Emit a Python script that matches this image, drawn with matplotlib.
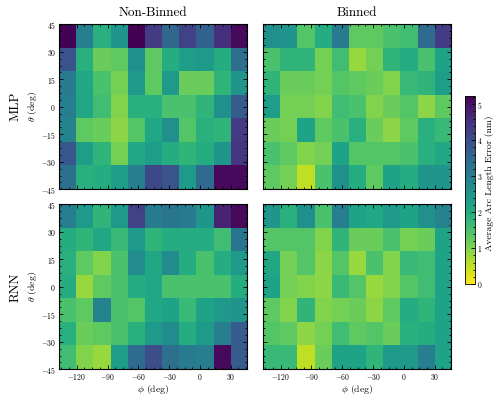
import numpy as np
import matplotlib
matplotlib.use("Agg")
import matplotlib.pyplot as plt
from matplotlib.ticker import MultipleLocator, AutoMinorLocator

# mean arc length error (nm) per (theta, phi) bin; rows run from theta=45 down to -45
mlp_nonbinned = [
    [5.2, 3.0, 1.9, 2.5, 5.2, 4.3, 3.5, 4.2, 3.6, 4.5, 5.1],
    [3.9, 1.9, 1.2, 1.3, 2.6, 1.3, 2.0, 2.3, 2.4, 2.0, 3.3],
    [3.1, 2.1, 1.5, 1.1, 2.4, 1.3, 2.4, 1.2, 1.2, 1.8, 2.5],
    [3.0, 2.1, 1.6, 1.0, 1.9, 1.9, 1.5, 1.5, 1.8, 2.6, 3.7],
    [2.9, 1.3, 1.2, 0.9, 1.4, 2.1, 2.6, 1.4, 1.9, 1.8, 4.3],
    [3.8, 2.3, 1.8, 1.1, 2.1, 2.3, 2.0, 1.8, 2.0, 2.5, 4.4],
    [3.3, 1.9, 2.0, 2.3, 3.0, 4.1, 3.9, 2.4, 3.4, 5.1, 5.1],
]
mlp_binned = [
    [2.6, 2.5, 1.4, 2.0, 3.1, 1.3, 1.3, 1.5, 1.6, 3.4, 4.3],
    [1.5, 1.8, 1.8, 1.1, 1.6, 0.8, 1.1, 1.8, 2.0, 1.5, 2.2],
    [1.8, 1.2, 1.2, 1.1, 1.4, 1.3, 1.2, 1.0, 1.7, 1.8, 2.3],
    [2.3, 1.1, 1.1, 1.0, 1.6, 1.5, 1.0, 1.2, 1.4, 0.9, 1.3],
    [1.2, 1.1, 2.2, 1.3, 1.5, 1.9, 1.2, 0.9, 1.3, 1.9, 1.7],
    [1.5, 1.3, 1.0, 1.1, 2.2, 1.4, 1.4, 1.4, 1.5, 1.9, 2.1],
    [1.3, 1.1, 0.5, 1.5, 2.6, 2.0, 1.3, 2.2, 2.0, 2.5, 2.5],
]
rnn_nonbinned = [
    [3.0, 2.4, 1.8, 2.4, 4.2, 3.1, 3.2, 3.1, 2.5, 4.7, 5.1],
    [2.0, 1.8, 2.1, 1.7, 2.4, 1.8, 2.0, 2.0, 2.0, 1.6, 3.2],
    [1.9, 1.3, 1.0, 1.5, 2.7, 2.1, 2.7, 2.0, 1.5, 2.0, 2.4],
    [2.0, 0.8, 1.3, 1.5, 2.0, 2.1, 1.5, 1.5, 1.5, 1.5, 2.0],
    [1.5, 1.3, 2.9, 1.5, 1.4, 2.1, 2.2, 1.7, 2.2, 2.4, 2.5],
    [1.9, 1.2, 1.3, 1.5, 1.9, 2.4, 2.7, 2.0, 2.4, 3.0, 3.7],
    [1.6, 1.0, 0.8, 2.3, 3.4, 4.0, 3.3, 3.1, 3.0, 5.1, 3.7],
]
rnn_binned = [
    [2.5, 1.9, 2.6, 1.5, 3.0, 2.2, 2.1, 2.4, 2.2, 2.6, 2.9],
    [1.4, 1.4, 1.4, 1.0, 1.8, 1.2, 1.2, 1.5, 1.1, 1.2, 2.2],
    [2.1, 1.1, 1.4, 0.9, 1.4, 0.8, 1.5, 1.0, 1.7, 1.6, 2.2],
    [2.2, 1.1, 1.0, 0.9, 1.7, 1.4, 0.8, 1.0, 1.4, 1.6, 2.2],
    [1.3, 1.0, 1.8, 1.0, 1.1, 1.2, 0.9, 1.3, 2.0, 1.8, 2.2],
    [1.4, 1.3, 0.9, 1.1, 1.6, 1.3, 1.4, 1.2, 1.9, 2.0, 2.2],
    [1.7, 1.7, 0.5, 1.2, 2.2, 2.2, 1.8, 2.4, 2.4, 3.0, 2.2],
]

models = ["MLP", "RNN"]
columns = ["Non-Binned", "Binned"]
phi_range = (-137.5, 45.5)
theta_range = (-45, 45)
vmax = 5.23

plt.rcParams["font.family"] = "serif"
plt.rcParams["font.serif"] = ["cmr10"]
plt.rcParams["mathtext.fontset"] = "cm"
plt.rcParams["axes.formatter.use_mathtext"] = True
plt.rcParams["axes.unicode_minus"] = True

fig = plt.figure(figsize=(4.95, 3.99), dpi=100)

lefts = [0.1186, 0.5307]
bottoms = [0.5256, 0.0744]
w = 0.3798
h = 0.4134

grids = [[mlp_nonbinned, mlp_binned], [rnn_nonbinned, rnn_binned]]
extent = [phi_range[0], phi_range[1], theta_range[0], theta_range[1]]

for r in range(2):
    for c in range(2):
        ax = fig.add_axes([lefts[c], bottoms[r], w, h])
        im = ax.imshow(np.array(grids[r][c]), cmap="viridis_r", vmin=0, vmax=vmax,
                       extent=extent, origin="upper", aspect="auto",
                       interpolation="nearest")
        ax.set_xlim(phi_range)
        ax.set_ylim(theta_range)
        ax.xaxis.set_major_locator(MultipleLocator(30))
        ax.yaxis.set_major_locator(MultipleLocator(15))
        ax.xaxis.set_minor_locator(AutoMinorLocator())
        ax.yaxis.set_minor_locator(AutoMinorLocator())
        ax.tick_params(which="both", direction="in", top=True, right=True,
                       labelsize=5.5, width=0.6, pad=2)
        ax.tick_params(which="major", length=3)
        ax.tick_params(which="minor", length=1.5)
        for s in ax.spines.values():
            s.set_linewidth(0.8)
        if r == 0:
            ax.set_title(columns[c], fontsize=9.5, pad=6)
            ax.tick_params(labelbottom=False)
        else:
            ax.set_xlabel(r"$\phi$ (deg)", fontsize=7, labelpad=1)
        if c == 0:
            ax.set_ylabel(r"$\theta$ (deg)", fontsize=7, labelpad=1)
            fig.text(0.032, bottoms[r] + h / 2, models[r], rotation=90,
                     fontsize=9.5, ha="center", va="center")
        else:
            ax.tick_params(labelleft=False)

cax = fig.add_axes([0.939, 0.2875, 0.0202, 0.472])
cb = fig.colorbar(im, cax=cax)
cb.set_ticks([0, 1, 2, 3, 4, 5])
cb.ax.yaxis.set_minor_locator(AutoMinorLocator())
cb.ax.tick_params(which="both", direction="in", labelsize=5.5, width=0.6, pad=1.5)
cb.ax.tick_params(which="major", length=3)
cb.ax.tick_params(which="minor", length=1.5)
cb.outline.set_linewidth(0.6)
# colorbar title placed by hand so it stays clear of the tick labels
fig.text(0.9885, 0.541, "Average Arc Length Error (nm)", rotation=90,
         fontsize=7, ha="center", va="center")

fig.savefig("out.png", dpi=100)
